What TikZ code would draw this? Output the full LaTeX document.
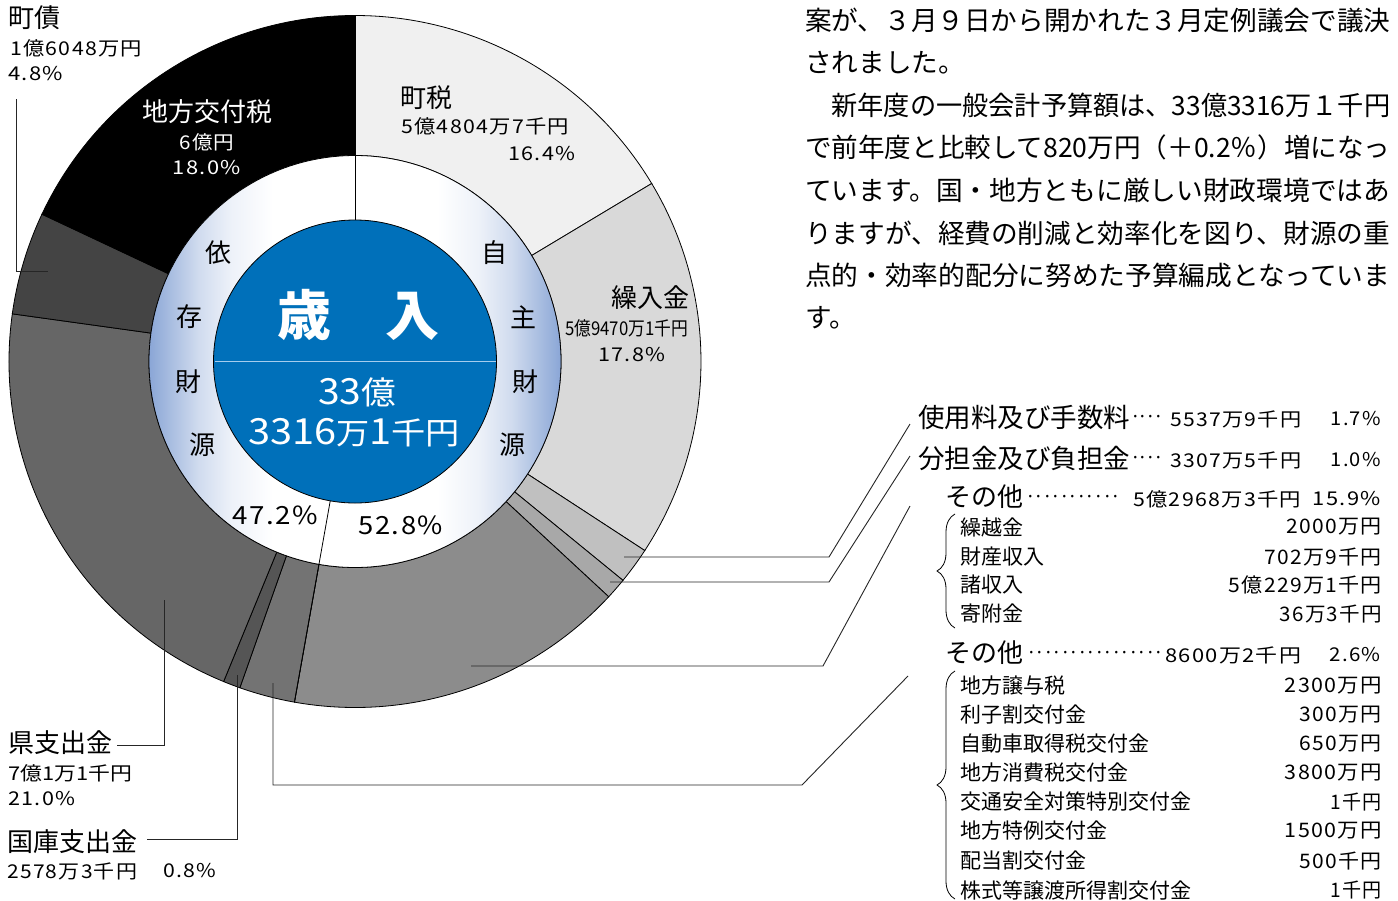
\documentclass[tikz,border=0pt]{standalone}
\usepackage{fontspec}
\usepackage{graphicx}
\setmainfont{Noto Sans CJK JP}
\newfontfamily\lsfont[LetterSpace=6]{Noto Sans CJK JP}
\usetikzlibrary{decorations.pathreplacing}

\definecolor{ringblue}{RGB}{138,166,214}
\colorlet{rbA}{ringblue!70!white}
\colorlet{rbB}{ringblue!40!white}
\colorlet{rbC}{ringblue!15!white}
\definecolor{coreblue}{RGB}{0,112,186}
\definecolor{lineblue}{RGB}{165,205,238}
\definecolor{cA}{RGB}{240,240,240}
\definecolor{cB}{RGB}{217,217,217}
\definecolor{cC}{RGB}{192,192,192}
\definecolor{cD}{RGB}{168,168,168}
\definecolor{cE}{RGB}{140,140,140}
\definecolor{cF}{RGB}{115,115,115}
\definecolor{cG}{RGB}{85,85,85}
\definecolor{cH}{RGB}{102,102,102}
\definecolor{cI}{RGB}{68,68,68}
\definecolor{cJ}{RGB}{0,0,0}

\pgfdeclarehorizontalshading{ringshade}{100bp}{color(0bp)=(ringblue); color(25bp)=(ringblue); color(28bp)=(rbA); color(31bp)=(rbB); color(35bp)=(rbC); color(40bp)=(white); color(60bp)=(white); color(65bp)=(rbC); color(69bp)=(rbB); color(72bp)=(rbA); color(75bp)=(ringblue); color(100bp)=(ringblue)}

\newcommand\fsz[1]{\fontsize{#1pt}{#1pt}\selectfont}
\newcommand\fw[2]{\resizebox{#1pt}{\height}{#2}}
\newcommand\dotlead[2]{\hbox to #1pt{\fsz{19}\xleaders\hbox to #2pt{\hss·\hss}\hfill}}

\begin{document}
\begin{tikzpicture}[x=1pt,y=-1pt,
  lbl/.style={inner sep=0pt,anchor=west},
  rlbl/.style={inner sep=0pt,anchor=east},
  ctr/.style={inner sep=0pt},
  wtxt/.style={inner sep=0pt,text=white},
  slice/.style={draw=black,line width=0.8pt},
  leader/.style={draw=black!85,line width=0.9pt},
  bracestyle/.style={draw=black,line width=0.8pt,decorate,decoration={brace,amplitude=18pt,aspect=0.5}}]
\useasboundingbox (0,0) rectangle (1398,900);
\fill[white] (0,0) rectangle (1398,900);

\coordinate (C) at (355,361.5);
\begin{scope}[shift={(C)}]
\foreach \a/\b/\c in {-90/-30.96/cA,-30.96/33.12/cB,33.12/39.24/cC,39.24/42.84/cD,42.84/100.08/cE,100.08/109.44/cF,109.44/112.32/cG,112.32/187.92/cH,187.92/205.2/cI,205.2/270/cJ}
  \filldraw[slice,fill=\c] (\a:206) -- (\a:346) arc[start angle=\a,end angle=\b,radius=346] -- (\b:206) arc[start angle=\b,end angle=\a,radius=206] -- cycle;
\shade[shading=ringshade] (0,0) circle[radius=206];
\draw[line width=0.8pt] (0,0) circle[radius=206];
\filldraw[fill=coreblue,draw=black,line width=0.8pt] (0,0) circle[radius=141.5];
\draw[lineblue,line width=1.5pt] (180:140.5) -- (0:140.5);
\draw[line width=0.8pt] (-90:141.5) -- (-90:346);
\draw[line width=0.8pt] (100.08:141.5) -- (100.08:346);
\end{scope}

% centre
\node[wtxt] (sainyu) at (358,315) {\fsz{54}\bfseries 歳　入};
\node[wtxt,anchor=west] (oku) at (318,392) {\fw{78}{\fsz{36}33\fsz{32}億}};
\node[wtxt,anchor=west] (man) at (248,433) {\fw{212}{\fsz{36}3316\fsz{30}万\fsz{36}1\fsz{31}千円}};

% ring characters
\foreach \t/\x/\y [count=\i] in {依/218/253,存/189/317,財/188/382,源/202/445,自/494/253,主/523/317,財/525/382,源/512/445}
  \node[ctr] (ring\i) at (\x,\y) {\fsz{26}\t};
\node[lbl] (pl) at (232,515) {\fw{86}{\lsfont\fsz{25}47.2\%}};
\node[lbl] (pr) at (358,525) {\fw{85}{\lsfont\fsz{25}52.8\%}};

% slice labels
\node[lbl] (mc) at (8,18) {\fsz{26}町債};
\node[lbl] (mcv) at (10,48) {\fw{132}{\lsfont\fsz{19}1億6048万円}};
\node[lbl] (mcp) at (8,74) {\fw{55}{\lsfont\fsz{19}4.8\%}};

\node[wtxt] (ck) at (207,112) {\fsz{26}地方交付税};
\node[wtxt] (ckv) at (207,142) {\fw{55}{\lsfont\fsz{19}6億円}};
\node[wtxt] (ckp) at (207,168) {\fw{68}{\lsfont\fsz{19}18.0\%}};

\node[lbl] (cz) at (400,98) {\fsz{26}町税};
\node[lbl] (czv) at (401,126) {\fw{168}{\lsfont\fsz{19}5億4804万7千円}};
\node[lbl] (czp) at (508,154) {\fw{67}{\lsfont\fsz{19}16.4\%}};

\node[lbl] (kn) at (611,298) {\fsz{26}繰入金};
\node[lbl] (knv) at (565,328) {\fw{123}{\fsz{19}5億9470万1千円}};
\node[lbl] (knp) at (598,355) {\fw{67}{\lsfont\fsz{19}17.8\%}};

\node[lbl] (ks) at (8,743) {\fsz{26}県支出金};
\node[lbl] (ksv) at (8,773) {\fw{124}{\fsz{19}7億1万1千円}};
\node[lbl] (ksp) at (8,799) {\fw{67}{\lsfont\fsz{19}21.0\%}};
\node[lbl] (kk) at (7,842) {\fsz{26}国庫支出金};
\node[lbl] (kkv) at (7,871) {\fw{130}{\lsfont\fsz{19}2578万3千円}};
\node[lbl] (kkp) at (163,871) {\fw{53}{\lsfont\fsz{19}0.8\%}};

% paragraph
\node[lbl] (p1) at (805,20) {\fw{585}{\fsz{26.6}案が、３月９日から開かれた３月定例議会で議決}};
\node[lbl] (p2) at (805,62.6) {\fsz{26.6}されました。};
\node[lbl] (p3) at (805,105.2) {\fw{585}{\fsz{26.6}　新年度の一般会計予算額は、33億3316万１千円}};
\node[lbl] (p4) at (805,147.8) {\fw{585}{\fsz{26.6}で前年度と比較して820万円（＋0.2％）増になっ}};
\node[lbl] (p5) at (805,190.4) {\fw{585}{\fsz{26.6}ています。国・地方ともに厳しい財政環境ではあ}};
\node[lbl] (p6) at (805,233) {\fw{585}{\fsz{26.6}りますが、経費の削減と効率化を図り、財源の重}};
\node[lbl] (p7) at (805,275.6) {\fw{585}{\fsz{26.6}点的・効率的配分に努めた予算編成となっていま}};
\node[lbl] (p8) at (805,318.2) {\fsz{26.6}す。};

% right list
\node[lbl] (ra) at (918,417) {\fsz{26.5}使用料及び手数料};
\node[lbl] (rad) at (1131,419) {\dotlead{32}{7.5}};
\node[lbl] (rav) at (1170,419) {\fw{131}{\lsfont\fsz{19}5537万9千円}};
\node[rlbl] (rap) at (1381,419) {\fw{50}{\lsfont\fsz{19}1.7\%}};

\node[lbl] (rb) at (918,458) {\fsz{26.5}分担金及び負担金};
\node[lbl] (rbd) at (1131,460) {\dotlead{32}{7.5}};
\node[lbl] (rbv) at (1170,460) {\fw{131}{\lsfont\fsz{19}3307万5千円}};
\node[rlbl] (rbp) at (1381,460) {\fw{50}{\lsfont\fsz{19}1.0\%}};

\node[lbl] (rc) at (945,497) {\fsz{26}その他};
\node[lbl] (rcd) at (1026,499) {\dotlead{94}{8.5}};
\node[lbl] (rcv) at (1133,499) {\fw{168}{\lsfont\fsz{19}5億2968万3千円}};
\node[rlbl] (rcp) at (1381,499) {\fw{68}{\lsfont\fsz{19}15.9\%}};

\foreach \t/\v/\w/\y [count=\i] in {繰越金/2000万円/95/527,財産収入/702万9千円/117/557,諸収入/5億229万1千円/153/585,寄附金/36万3千円/102/614}{
  \node[lbl] (sc\i) at (960,\y) {\fsz{21}\t};
  \node[rlbl] (scv\i) at (1382,\y) {\fw{\w}{\lsfont\fsz{20}\v}};
}

\node[lbl] (rd) at (945,653) {\fsz{26}その他};
\node[lbl] (rdd) at (1027,655) {\dotlead{136}{8.5}};
\node[lbl] (rdv) at (1165,655) {\fw{136}{\lsfont\fsz{19}8600万2千円}};
\node[rlbl] (rdp) at (1381,655) {\fw{51}{\lsfont\fsz{19}2.6\%}};

\foreach \t/\v/\w/\y [count=\i] in {地方譲与税/2300万円/97/686,利子割交付金/300万円/82/715,自動車取得税交付金/650万円/82/744,地方消費税交付金/3800万円/97/773,交通安全対策特別交付金/1千円/51/802,地方特例交付金/1500万円/97/831,配当割交付金/500千円/82/861,株式等譲渡所得割交付金/1千円/51/890}{
  \node[lbl] (sd\i) at (960,\y) {\fsz{21}\t};
  \node[rlbl] (sdv\i) at (1382,\y) {\fw{\w}{\lsfont\fsz{20}\v}};
}

% braces
\coordinate (b1t) at (955,514);
\coordinate (b1b) at (955,628);
\coordinate (b2t) at (955,671);
\coordinate (b2b) at (955,899);
\draw[bracestyle] (b1b) -- (b1t);
\draw[bracestyle] (b2b) -- (b2t);

% leader lines
\coordinate (a1) at (624,557); \coordinate (a2) at (829,557); \coordinate (a3) at (910,424);
\draw[leader] (a1) -- (a2) -- (a3);
\coordinate (e1) at (610,582); \coordinate (e2) at (829,582); \coordinate (e3) at (910,456);
\draw[leader] (e1) -- (e2) -- (e3);
\coordinate (f1) at (471,666); \coordinate (f2) at (823,666); \coordinate (f3) at (910,506);
\draw[leader] (f1) -- (f2) -- (f3);
\coordinate (g1) at (273,683); \coordinate (g2) at (273,785); \coordinate (g3) at (802,785); \coordinate (g4) at (908,676);
\draw[leader] (g1) -- (g2) -- (g3) -- (g4);
\coordinate (h1) at (16,99); \coordinate (h2) at (16,271); \coordinate (h3) at (48,271);
\draw[leader] (h1) -- (h2) -- (h3);
\coordinate (k1) at (164,600); \coordinate (k2) at (164,745);
\draw[leader] (k1) -- (k2) -- ([xshift=5pt]ks.east |- k2);
\coordinate (m1) at (237,675); \coordinate (m2) at (237,839);
\draw[leader] (m1) -- (m2) -- ([xshift=10pt]kk.east |- m2);
\end{tikzpicture}
\end{document}
